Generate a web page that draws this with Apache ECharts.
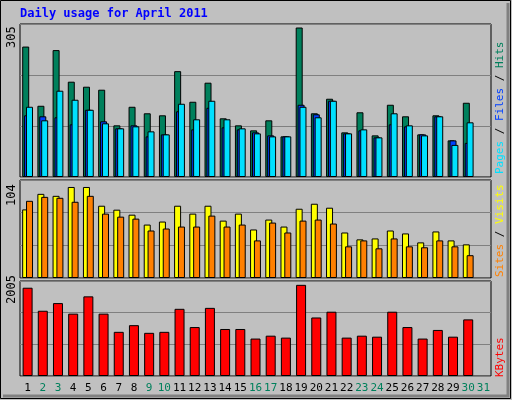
<!DOCTYPE html><html><head><meta charset="utf-8">
<script src="https://cdn.jsdelivr.net/npm/echarts@6/dist/echarts.min.js"></script>
<style>html,body{margin:0;padding:0;background:#c0c0c0}#c{width:512px;height:400px}</style></head><body><div id="c"></div>
<script>
const days = Array.from({length:31},(_,i)=>String(i+1));
const weekend = ['2','3','9','10','16','17','23','24','30','31'];
const hits  = [260,142,253,190,180,174,103,140,127,123,211,150,188,117,103,93,113,81,298,127,156,89,129,83,144,121,85,123,73,148,null];
const files = [123,121,119,105,134,111,97,103,81,85,131,95,138,99,95,89,83,81,144,125,152,87,93,79,105,101,85,121,73,68,null];
const pages = [140,113,172,154,134,107,97,101,91,85,146,115,152,115,97,87,81,81,140,119,152,87,95,79,127,103,83,121,64,109,null];
const visits= [72.8,89.3,87.2,96.6,96.6,76.7,72.5,67.2,56.7,59.9,76.7,68.3,76.7,60.9,68.3,51.5,62,54.6,73.5,78.8,74.6,48.3,41,42,50.4,47.3,37.8,49.4,39.9,35.7,null];
const sites = [81.9,86.1,85.1,80.9,87.2,68.3,65.1,63,50.4,52.5,54.6,54.6,66.2,54.6,56.7,39.9,58.8,48.3,60.9,62,57.8,33.6,39.9,31.5,42,33.6,32.6,39.9,33.6,24.2,null];
const kbytes= [1863,1377,1539,1316,1681,1316,932,1073,911,932,1418,1033,1438,992,992,790,851,810,1924,1235,1357,810,851,830,1357,1033,790,972,830,1195,null];
const maxTop=305, maxMid=104, maxBot=2005;

const F='"DejaVu Sans Mono", monospace';
const chart=echarts.init(document.getElementById('c'));
const grids=[{left:20,right:21,top:24,height:153},{left:20,right:21,top:180,height:98},{left:20,right:21,top:281,height:95}]
  .map(g=>Object.assign(g,{show:true,borderColor:'#000',borderWidth:1,backgroundColor:'#c0c0c0'}));
const xa=i=>({type:'category',gridIndex:i,data:days,axisTick:{show:false},axisLine:{show:false},
  axisLabel:{show:i===2,fontFamily:F,fontSize:11,margin:7,interval:0,
    color:(v)=>weekend.includes(v)?'#00805c':'#000'}});
const ya=(i,m)=>({type:'value',gridIndex:i,min:0,max:m,interval:m/3,axisLabel:{show:false},axisLine:{show:false},axisTick:{show:false},
  splitLine:{show:true,lineStyle:{color:'#808080',width:1}}});
const bs={borderColor:'#000',borderWidth:1};
const bar=(name,data,i,color,w,gap)=>({type:'bar',name,data,xAxisIndex:i,yAxisIndex:i,barWidth:w,barGap:gap,
  itemStyle:Object.assign({color},bs),animation:false});
chart.setOption({
  animation:false,
  backgroundColor:'#c0c0c0',
  grid:grids,
  xAxis:[xa(0),xa(1),xa(2)],
  yAxis:[ya(0,maxTop),ya(1,maxMid),ya(2,maxBot)],
  series:[
    bar('Hits',hits,0,'#00805c',7,'-73%'),
    bar('Files',files,0,'#0040ff',7,'-73%'),
    bar('Pages',pages,0,'#00e0ff',7,'-73%'),
    bar('Visits',visits,1,'#ffff00',7,'-45%'),
    bar('Sites',sites,1,'#ff8000',7,'-45%'),
    bar('KBytes',kbytes,2,'#ff0000',10,'0%')
  ],
  graphic:[
    {type:'rect',shape:{x:0.5,y:0.5,width:510,height:398},style:{fill:null,stroke:'#000',lineWidth:1},silent:true},
    {type:'polyline',shape:{points:[[3,396],[508,396],[508,3]]},style:{stroke:'#808080',lineWidth:3,fill:null}},
    {type:'text',left:20,top:8,style:{text:'Daily usage for April 2011',fill:'#0000ff',font:'bold 12px '+F}},
    {type:'text',x:6,y:48,rotation:Math.PI/2,style:{text:'305',fill:'#000',font:'12px '+F}},
    {type:'text',x:6,y:206,rotation:Math.PI/2,style:{text:'104',fill:'#000',font:'12px '+F}},
    {type:'text',x:6,y:304,rotation:Math.PI/2,style:{text:'2005',fill:'#000',font:'12px '+F}},
    {type:'text',x:495,y:174,rotation:Math.PI/2,style:{text:'{p|Pages} {s|/} {f|Files} {s|/} {h|Hits}',font:'11px '+F,
      rich:{p:{fill:'#00e0ff',font:'11px '+F},f:{fill:'#0040ff',font:'11px '+F},h:{fill:'#00805c',font:'11px '+F},s:{fill:'#000',font:'11px '+F}}}},
    {type:'text',x:495,y:277,rotation:Math.PI/2,style:{text:'{a|Sites} {s|/} {b|Visits}',font:'11px '+F,
      rich:{a:{fill:'#ff8000',font:'11px '+F},b:{fill:'#ffff00',font:'11px '+F},s:{fill:'#000',font:'11px '+F}}}},
    {type:'text',x:495,y:377,rotation:Math.PI/2,style:{text:'KBytes',fill:'#ff0000',font:'11px '+F}}
  ]
});
</script></body></html>
